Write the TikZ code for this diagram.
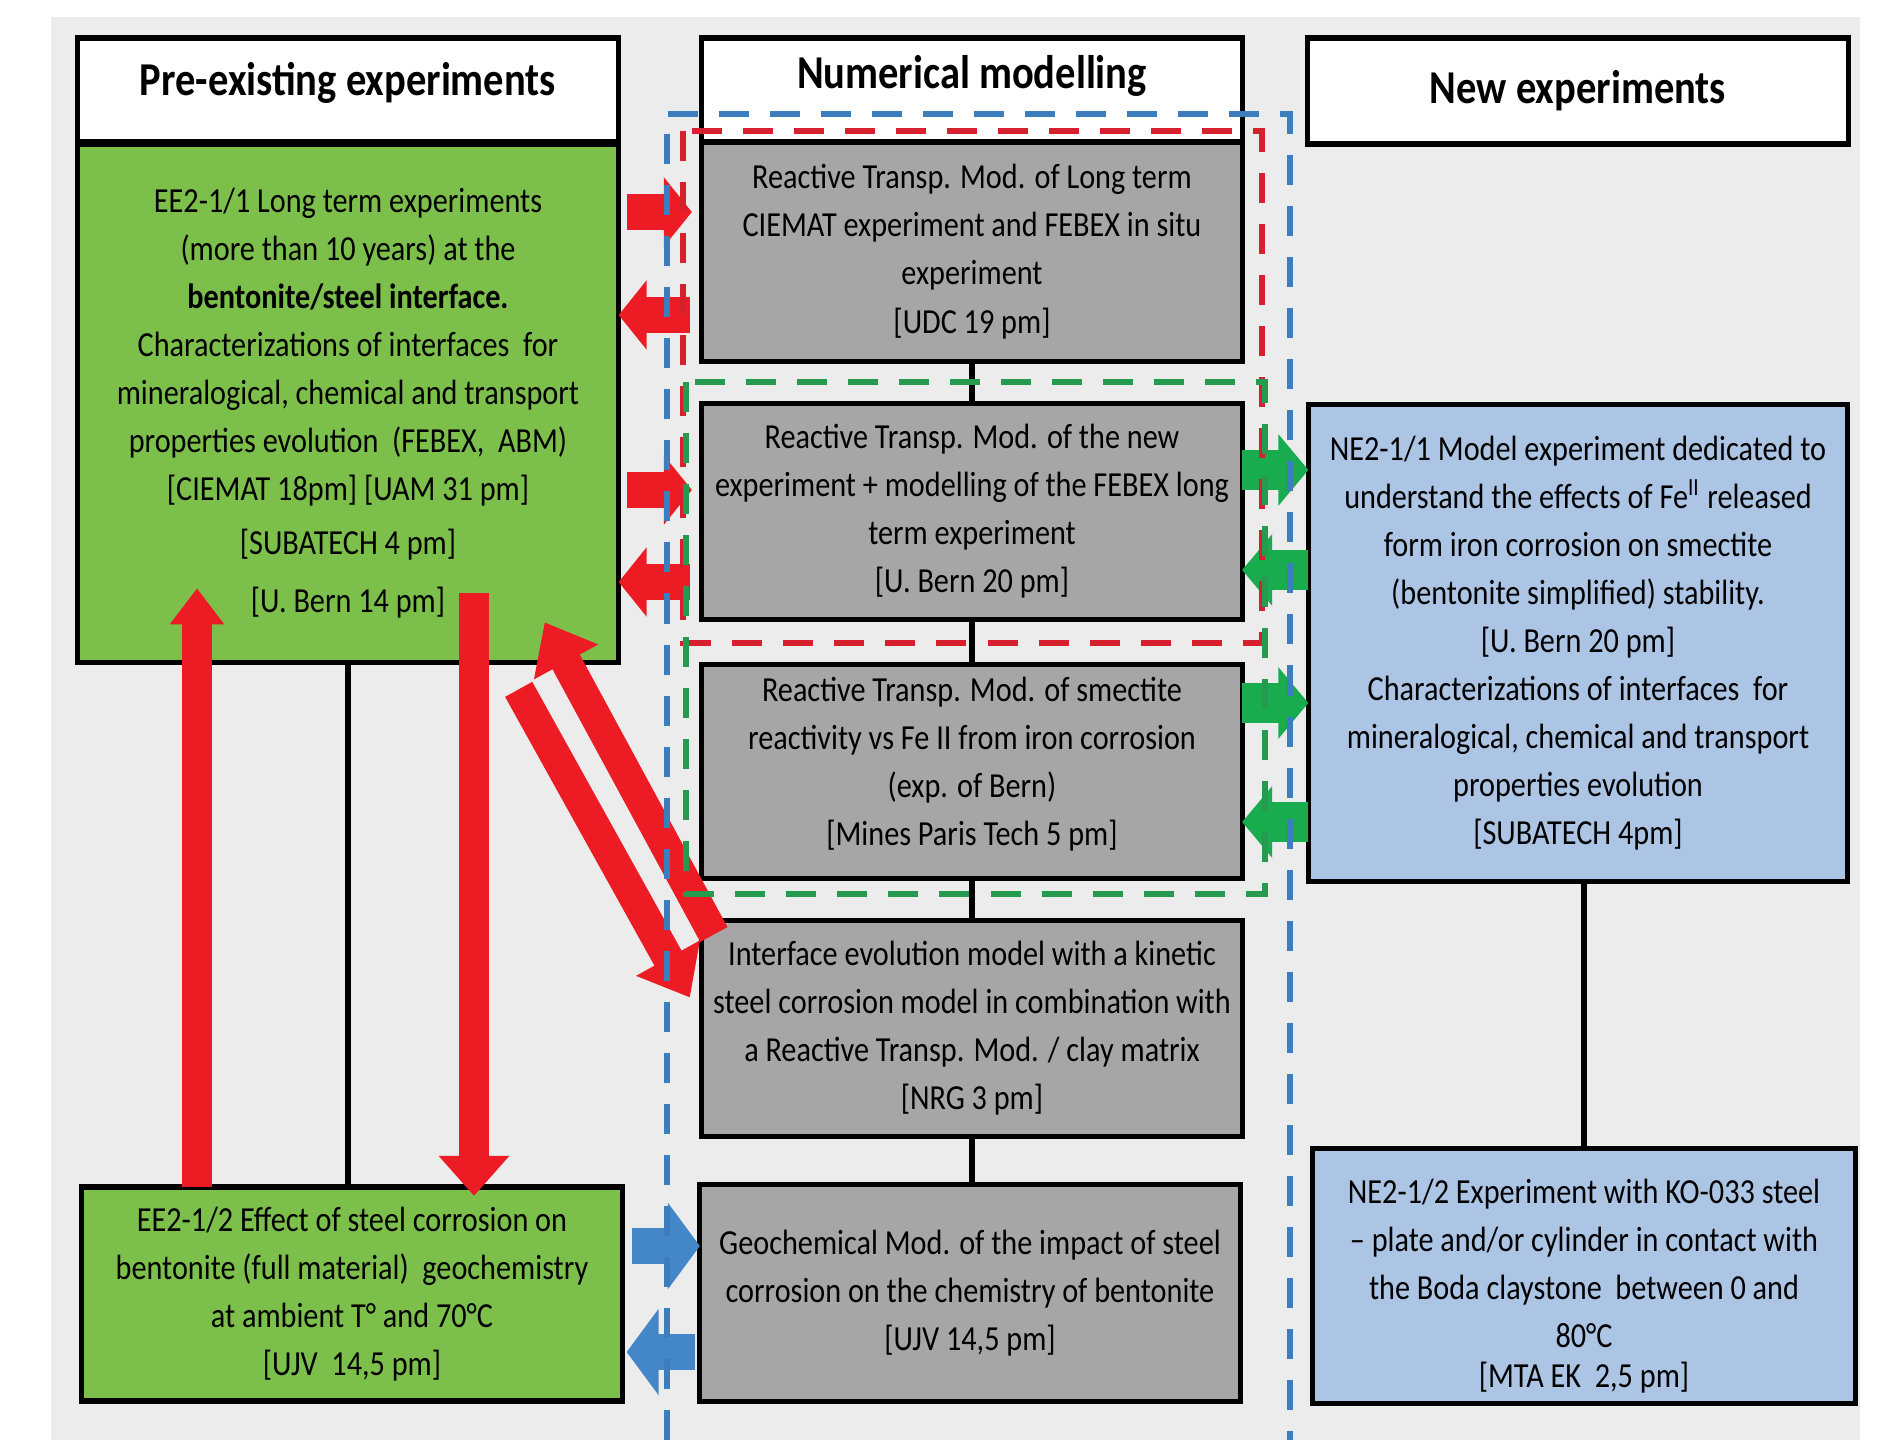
\documentclass[tikz,border=0pt]{standalone}
\usepackage{fontspec}
\setmainfont{Carlito}[FakeStretch=0.86]
\usetikzlibrary{positioning, calc, arrows.meta}
\definecolor{bggrey}{RGB}{236,236,236}
\definecolor{preGreen}{RGB}{125,191,75}
\definecolor{modGrey}{RGB}{166,166,166}
\definecolor{newBlue}{RGB}{172,197,228}
\definecolor{arrowRed}{RGB}{237,28,36}
\definecolor{arrowGreen}{RGB}{25,172,78}
\definecolor{arrowBlue}{RGB}{68,135,200}
\definecolor{dashRed}{RGB}{215,32,45}
\definecolor{dashGreen}{RGB}{38,155,80}
\definecolor{dashBlue}{RGB}{60,125,190}
\tikzstyle{box} = [rectangle, draw=black, line width=1.5pt, outer sep=0pt, inner xsep=0pt, inner ysep=2pt, align=center, font=\fontsize{10pt}{13.66pt}\selectfont]
\tikzstyle{header} = [box, fill=white, minimum width=5.41cm, minimum height=1.04cm, font=\fontsize{13.4pt}{15pt}\selectfont\bfseries]
\tikzstyle{preexp} = [box, fill=preGreen, minimum width=5.41cm]
\tikzstyle{model} = [box, fill=modGrey, minimum width=5.40cm, minimum height=2.16cm]
\tikzstyle{newexp} = [box, fill=newBlue]
\tikzstyle{link} = [line width=1.8pt]
\tikzstyle{redarrow} = [line width=0.36cm, draw=arrowRed, -{Triangle[length=0.28cm, width=0.68cm]}]
\tikzstyle{greenarrow} = [line width=0.40cm, draw=arrowGreen, -{Triangle[length=0.30cm, width=0.70cm]}]
\tikzstyle{bluearrow} = [line width=0.36cm, draw=arrowBlue, -{Triangle[length=0.32cm, width=0.85cm]}]
\tikzstyle{redup} = [line width=0.29cm, draw=arrowRed, -{Triangle[length=0.36cm, width=0.52cm]}]
\tikzstyle{reddown} = [line width=0.29cm, draw=arrowRed, -{Triangle[length=0.40cm, width=0.68cm]}]
\tikzstyle{reddiag} = [line width=0.31cm, draw=arrowRed, -{Triangle[length=0.45cm, width=0.70cm]}]
\tikzstyle{group} = [line width=1.6pt, dash pattern=on 0.30cm off 0.21cm]

\begin{document}
\begin{tikzpicture}[x=0.01cm, y=-0.01cm, node distance=0.44cm]
			\fill[white] (0,0) rectangle (1885,1440);
			\fill[bggrey] (51,17) rectangle (1860,1440);
			\useasboundingbox (0,0) rectangle (1885,1440);

			\node[header, text depth=0.23cm] (1) at (348,90) {Pre-existing experiments};
			\node[preexp, minimum height=5.18cm, below=0.02cm of 1] (2) {EE2-1/1 Long term experiments\\(more than 10 years) at the\\{\bfseries bentonite/steel interface.}\\Characterizations of interfaces\ \ for\\mineralogical, chemical and transport\\properties evolution\ \ (FEBEX,\ \ ABM)\\{[}CIEMAT 18pm] [UAM 31 pm]\\[1.7pt]{[}SUBATECH 4 pm]\\[2.8pt]{[}U. Bern 14 pm]};
			\node[preexp, minimum height=2.14cm] (3) at (352,1294) {EE2-1/2 Effect of steel corrosion on\\bentonite (full material)\ \ geochemistry\\at ambient T° and 70°C\\{[}UJV\ \ 14,5 pm]};

			\node[header, text depth=0.37cm] (4) at (972,90) {Numerical modelling};
			\node[model, minimum height=2.19cm, below=0cm of 4] (5) {Reactive Transp. Mod. of Long term\\CIEMAT experiment and FEBEX in situ\\experiment\\{[}UDC 19 pm]};
			\node[model, below=0.42cm of 5] (6) {Reactive Transp. Mod. of the new\\experiment + modelling of the FEBEX long\\term experiment\\{[}U. Bern 20 pm]};
			\node[model, minimum height=2.14cm, below=0.45cm of 6, text depth=0.21cm] (7) {Reactive Transp. Mod. of smectite\\reactivity vs Fe II from iron corrosion\\(exp. of Bern)\\{[}Mines Paris Tech 5 pm]};
			\node[model, below=0.42cm of 7] (8) {Interface evolution model with a kinetic\\steel corrosion model in combination with\\a Reactive Transp. Mod. / clay matrix\\{[}NRG 3 pm]};
			\node[model, minimum height=2.17cm, below=0.48cm of 8, xshift=-0.02cm] (9) {Geochemical Mod. of the impact of steel\\corrosion on the chemistry of bentonite\\{[}UJV 14,5 pm]};

			\node[header, minimum height=1.06cm] (10) at (1578,91) {New experiments};
			\node[newexp, minimum width=5.39cm, minimum height=4.77cm, below=2.6cm of 10] (11) {NE2-1/1 Model experiment dedicated to\\understand the effects of Fe\textsuperscript{II} released\\form iron corrosion on smectite\\(bentonite simplified) stability.\\{[}U. Bern 20 pm]\\Characterizations of interfaces\ \ for\\mineralogical, chemical and transport\\properties evolution\\{[}SUBATECH 4pm]};
			\node[newexp, minimum width=5.43cm, minimum height=2.55cm, below=2.67cm of 11, xshift=0.06cm] (12) {\rule{0pt}{0.45cm}NE2-1/2 Experiment with KO-033 steel\\– plate and/or cylinder in contact with\\the Boda claystone\ \ between 0 and\\80°C\\[-2.3pt]{[}MTA EK\ \ 2,5 pm]};

			\draw[link] (2.south) -- (2.south |- 3.north);
			\foreach \a/\b in {5/6,6/7,7/8,8/9}
				\draw[link] (\a.south) -- (\a.south |- \b.north);
			\draw[link] (12.north |- 11.south) -- (12.north);

			\coordinate (r1) at (0,212);
			\coordinate (r2) at (0,315);
			\coordinate (r3) at (0,490);
			\coordinate (r4) at (0,582);
			\coordinate (g1) at (0,470);
			\coordinate (g2) at (0,570);
			\coordinate (g3) at (0,703);
			\coordinate (g4) at (0,822);
			\coordinate (b1) at (0,1246);
			\coordinate (b2) at (0,1352);
			\coordinate (v1) at (197,0);
			\coordinate (v2) at (474,0);

			\draw[redarrow, shorten <=0.08cm, shorten >=0.1cm] (2.east |- r1) -- (5.west |- r1);
			\draw[redarrow, shorten <=0.12cm] (5.west |- r2) -- (2.east |- r2);
			\draw[redarrow, shorten <=0.08cm, shorten >=0.1cm] (2.east |- r3) -- (6.west |- r3);
			\draw[redarrow, shorten <=0.12cm] (6.west |- r4) -- (2.east |- r4);

			\draw[greenarrow] (6.east |- g1) -- (11.west |- g1);
			\draw[greenarrow] (11.west |- g2) -- (6.east |- g2);
			\draw[greenarrow] (7.east |- g3) -- (11.west |- g3);
			\draw[greenarrow] (11.west |- g4) -- (7.east |- g4);

			\draw[bluearrow, shorten <=0.09cm] (3.east |- b1) -- (9.west |- b1);
			\draw[bluearrow, shorten <=0.05cm, shorten >=0.04cm] (9.west |- b2) -- (3.east |- b2);

			\draw[redup, shorten >=-0.74cm] (3.north -| v1) -- (2.south -| v1);
			\draw[reddown, shorten <=-0.69cm, shorten >=-0.09cm] (2.south -| v2) -- (3.north -| v2);
			\draw[reddiag] ($(2.south east)+(-100,27)$) -- ($(8.north west)+(-12,77)$);
			\draw[reddiag] ($(8.north west)+(12,14)$) -- ($(2.south east)+(-74,-40)$);

			\draw[group, draw=dashBlue] (667,1440) -- (667,114) -- (1290,114) -- (1290,1440);
			\draw[group, draw=dashRed] (683,131) rectangle (1262,643);
			\draw[group, draw=dashGreen] (686,382) rectangle (1265,894);
		\end{tikzpicture}
\end{document}
